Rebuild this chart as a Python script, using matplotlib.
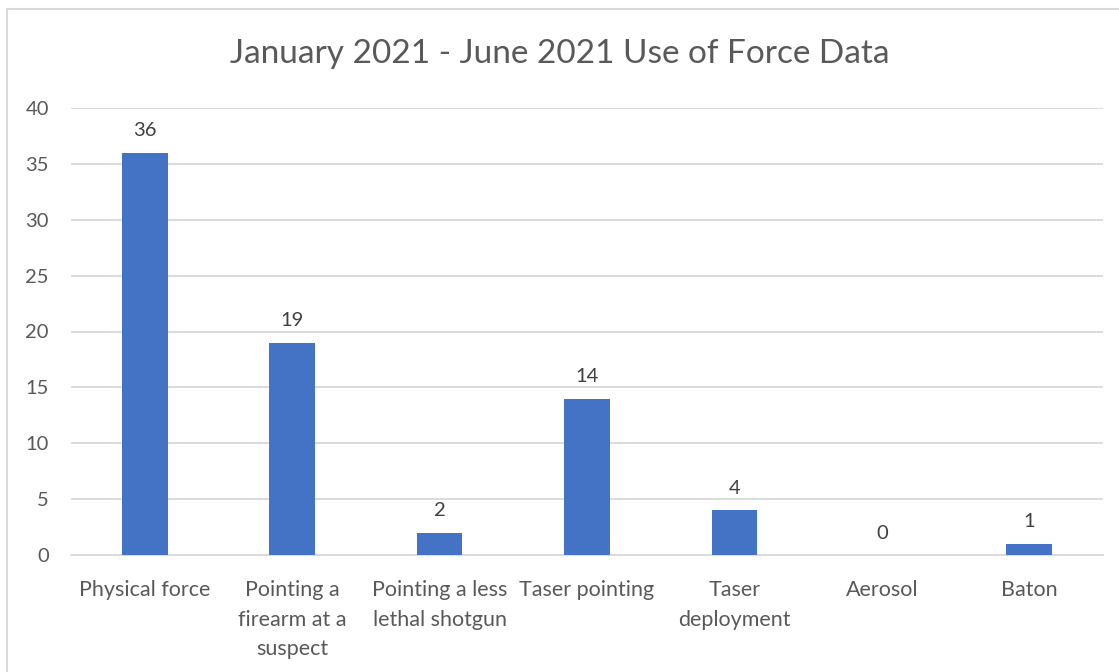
import matplotlib.pyplot as plt
from matplotlib.patches import Rectangle
import numpy as np

categories = [
    "Physical force",
    "Pointing a\nfirearm at a\nsuspect",
    "Pointing a less\nlethal shotgun",
    "Taser pointing",
    "Taser\ndeployment",
    "Aerosol",
    "Baton",
]
counts = [36, 19, 2, 14, 4, 0, 1]
yticks = [0, 5, 10, 15, 20, 25, 30, 35, 40]

plt.rcParams["font.family"] = ["Lato", "DejaVu Sans"]
text_color = "#595959"
bar_color = "#4472C4"
grid_color = "#D9D9D9"

W, H = 1119, 672
fig = plt.figure(figsize=(W / 100, H / 100), dpi=100)
ax = fig.add_axes([71 / W, 1 - 555 / H, (1103 - 71) / W, (555 - 108) / H])

# outer chart border (cropped on right/bottom in reference)
fig.patches.append(Rectangle((7 / W, -0.05), 1.1, 1 - 9 / H + 0.05,
                             transform=fig.transFigure, fill=False,
                             edgecolor=grid_color, linewidth=1.5))

x = np.arange(len(categories))
bars = ax.bar(x, counts, width=0.31, color=bar_color, zorder=3)
for xi, v in zip(x, counts):
    ax.text(xi, v + 1.2, str(v), ha="center", va="bottom",
            fontsize=14.5, color="#404040")

ax.set_xlim(-0.5, len(categories) - 0.5)
ax.set_ylim(0, 40)
ax.set_yticks(yticks)
ax.yaxis.grid(True, color=grid_color, linewidth=1.3, zorder=0)
ax.set_xticks(x)
ax.set_xticklabels(categories, fontsize=15.5, color=text_color, linespacing=1.6)
ax.tick_params(axis="y", labelsize=14.5, labelcolor=text_color, length=0, pad=16)
ax.tick_params(axis="x", length=0, pad=18)
for s in ["left", "right", "top"]:
    ax.spines[s].set_visible(False)
ax.spines["bottom"].set_color(grid_color)
ax.spines["bottom"].set_linewidth(1.3)

fig.text(0.5, 1 - 54 / H, "January 2021 - June 2021 Use of Force Data",
         ha="center", va="center", fontsize=24, color=text_color)

fig.savefig("out.png", dpi=100)
